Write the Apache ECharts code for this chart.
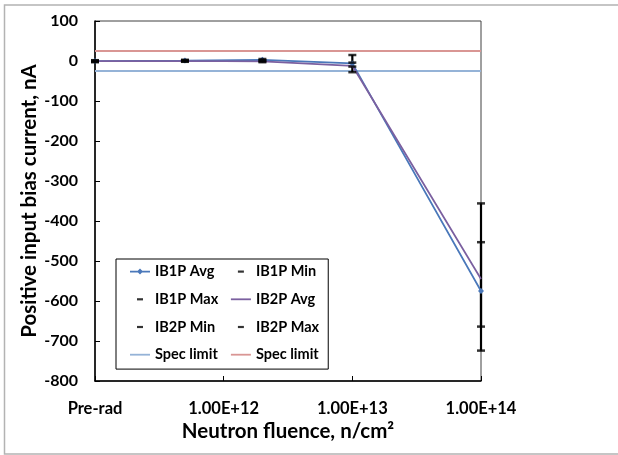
<!DOCTYPE html>
<html>
<head>
<meta charset="utf-8">
<script src="https://cdn.jsdelivr.net/npm/echarts@6/dist/echarts.min.js"></script>
<style>
html,body{margin:0;padding:0;background:#fff;}
#chart{width:618px;height:455px;}
</style>
</head>
<body>
<div id="chart"></div>
<script>
// ---- data ----
const fluence = [1e11, 5e11, 2e12, 1e13, 1e14]; // 1e11 plotted as "Pre-rad"
const xTickLabels = ['Pre-rad', '1.00E+12', '1.00E+13', '1.00E+14'];
const ib1pAvg = [0, 1, 3, -6, -575];
const ib1pMin = [-2, -1, -1, -14, -664];
const ib1pMax = [2, 3, 5, 15, -453];
const ib2pAvg = [0, 0, -1, -12, -545];
const ib2pMin = [-3, -2, -3, -28, -724];
const ib2pMax = [1, 2, 2, -4, -356];
const specLow = [-25, -25, -25, -25, -25];
const specHigh = [25, 25, 25, 25, 25];

const FONT = 'Lato, "Open Sans", sans-serif';
const pairs = arr => fluence.map((x, i) => [x, arr[i]]);
const bars = [];
fluence.forEach((x, i) => {
  bars.push([x, ib1pMin[i], ib1pMax[i]]);
  bars.push([x, ib2pMin[i], ib2pMax[i]]);
});

const dashIcon = 'path://M0,0M20,14M7,6H13V8.2H7Z';
const lineIcon = 'path://M0,0M20,14M0,6.2H20V8H0Z';
const avgIcon = 'path://M0,0M20,14M0,6.3H20V7.9H0Z M10,4.1L13,7.1L10,10.1L7,7.1Z';

const chart = echarts.init(document.getElementById('chart'), null, {renderer: 'canvas'});
chart.setOption({
  animation: false,
  backgroundColor: '#fff',
  textStyle: {fontFamily: FONT},
  graphic: [{
    type: 'rect', silent: true, z: -10,
    shape: {x: 4.5, y: 5, width: 640, height: 449},
    style: {fill: 'none', stroke: '#b3b3b3', lineWidth: 1.5}
  }],
  grid: {left: 95, right: 137, top: 21, bottom: 74, show: true, borderColor: '#404040', borderWidth: 1, backgroundColor: 'transparent'},
  legend: {
    orient: 'vertical',
    left: 116, top: 259,
    height: 100,
    padding: [5, 6, 7, 14],
    itemWidth: 20, itemHeight: 14, itemGap: 12.7,
    borderColor: '#000', borderWidth: 1, backgroundColor: '#fff',
    itemStyle: {borderWidth: 0},
    textStyle: {fontFamily: FONT, fontWeight: 'bold', fontSize: 14.5, color: '#000', width: 70, padding: [0, 0, 0, 0]},
    data: [
      {name: 'IB1P Avg', icon: avgIcon},
      {name: 'IB1P Max', icon: dashIcon},
      {name: 'IB2P Min', icon: dashIcon},
      {name: 'Spec limit', icon: lineIcon},
      {name: 'IB1P Min', icon: dashIcon},
      {name: 'IB2P Avg', icon: lineIcon},
      {name: 'IB2P Max', icon: dashIcon},
      {name: 'Spec limit ', icon: lineIcon}
    ]
  },
  xAxis: {
    type: 'log', logBase: 10, min: 1e11, max: 1e14,
    name: 'Neutron fluence, n/cm²', nameLocation: 'middle', nameGap: 40, nameMoveOverlap: false,
    nameTextStyle: {fontFamily: FONT, fontWeight: 'bold', fontSize: 20.5, color: '#000'},
    axisLine: {onZero: false, lineStyle: {color: '#000', width: 1.5}},
    axisTick: {inside: true, length: 5, lineStyle: {color: '#000', width: 1}},
    axisLabel: {
      margin: 19, fontFamily: FONT, fontWeight: 'bold', fontSize: 16.5, color: '#000',
      formatter: v => xTickLabels[Math.round(Math.log10(v)) - 11] || ''
    },
    splitLine: {show: false}, minorTick: {show: false}
  },
  yAxis: {
    type: 'value', min: -800, max: 100, interval: 100,
    name: 'Positive input bias current, nA', nameLocation: 'middle', nameGap: 55, nameMoveOverlap: false,
    nameTextStyle: {fontFamily: FONT, fontWeight: 'bold', fontSize: 20.5, color: '#000'},
    axisLine: {show: true, onZero: false, lineStyle: {color: '#000', width: 1.5}},
    axisTick: {show: true, inside: true, length: 5, lineStyle: {color: '#000', width: 1}},
    axisLabel: {margin: 17, fontFamily: FONT, fontWeight: 'bold', fontSize: 16, color: '#000'},
    splitLine: {show: false}
  },
  series: [
    {name: 'Spec limit', type: 'line', data: pairs(specLow), showSymbol: false, symbol: 'none', z: 1,
      lineStyle: {color: '#95B3D7', width: 2}, itemStyle: {color: '#95B3D7'}},
    {name: 'Spec limit ', type: 'line', data: pairs(specHigh), showSymbol: false, symbol: 'none', z: 1,
      lineStyle: {color: '#D99694', width: 2}, itemStyle: {color: '#D99694'}},
    {name: 'errbars', type: 'custom', data: bars, z: 3, encode: {x: 0, y: [1, 2]},
      renderItem: (params, api) => {
        const p1 = api.coord([api.value(0), api.value(1)]);
        const p2 = api.coord([api.value(0), api.value(2)]);
        return {type: 'line', shape: {x1: p1[0], y1: p1[1], x2: p2[0], y2: p2[1]}, style: {stroke: '#000', lineWidth: 2.2}};
      }},
    {name: 'IB1P Avg', type: 'line', data: pairs(ib1pAvg), symbol: 'diamond', symbolSize: 6, showSymbol: true, z: 4,
      lineStyle: {color: '#4A78BA', width: 1.75}, itemStyle: {color: '#4A78BA', borderWidth: 0}},
    {name: 'IB2P Avg', type: 'line', data: pairs(ib2pAvg), symbol: 'none', showSymbol: false, z: 4,
      lineStyle: {color: '#7B60A0', width: 1.75}, itemStyle: {color: '#7B60A0'}},
    {name: 'IB1P Min', type: 'scatter', data: pairs(ib1pMin), symbol: 'rect', symbolSize: [8, 2.5], z: 5, itemStyle: {color: '#000'}},
    {name: 'IB1P Max', type: 'scatter', data: pairs(ib1pMax), symbol: 'rect', symbolSize: [8, 2.5], z: 5, itemStyle: {color: '#000'}},
    {name: 'IB2P Min', type: 'scatter', data: pairs(ib2pMin), symbol: 'rect', symbolSize: [8, 2.5], z: 5, itemStyle: {color: '#000'}},
    {name: 'IB2P Max', type: 'scatter', data: pairs(ib2pMax), symbol: 'rect', symbolSize: [8, 2.5], z: 5, itemStyle: {color: '#000'}}
  ]
});
</script>
</body>
</html>
